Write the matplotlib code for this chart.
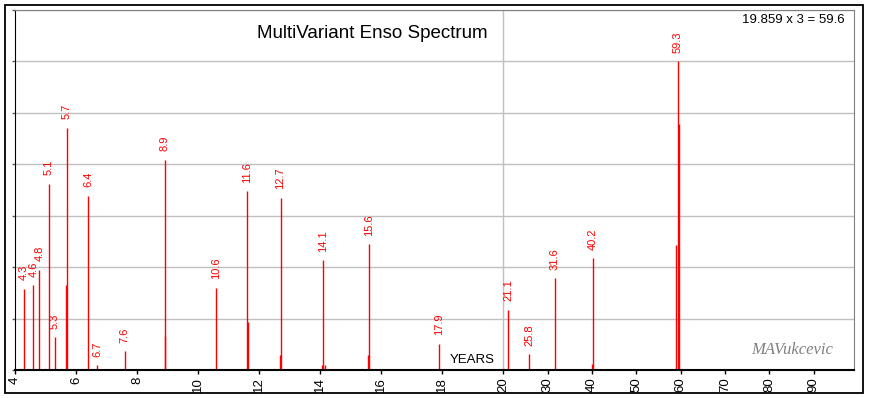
import matplotlib
matplotlib.use("Agg")
import matplotlib.pyplot as plt
from matplotlib.patches import Rectangle
import numpy as np

plt.rcParams['font.family'] = ['Liberation Sans', 'DejaVu Sans']

# main spectral peaks (period in years, relative amplitude) - labelled
periods = [4.3, 4.6, 4.8, 5.1, 5.3, 5.7, 6.4, 6.7, 7.6, 8.9, 10.6, 11.6, 12.7,
           14.1, 15.6, 17.9, 21.1, 25.8, 31.6, 40.2, 59.3]
amps = [1.58, 1.65, 1.95, 3.62, 0.64, 4.71, 3.39, 0.10, 0.37, 4.09, 1.60, 3.48,
        3.35, 2.14, 2.45, 0.51, 1.17, 0.31, 1.79, 2.18, 6.00]

# secondary (unlabelled) lines next to some peaks
sec_periods = [5.67, 8.93, 11.63, 12.67, 14.05, 14.14, 15.57, 40.0, 59.0, 59.6]
sec_amps = [1.65, 0.66, 0.93, 0.29, 0.10, 0.10, 0.29, 0.12, 2.43, 4.79]

left_ticks = [4, 6, 8, 10, 12, 14, 16, 18, 20]
right_ticks = [30, 40, 50, 60, 70, 80, 90]

title = "MultiVariant Enso Spectrum"
note = "19.859 x 3 = 59.6"

# piecewise linear x axis: 4-20 wide, 20-100 compressed
K = 0.1452


def fwd(v):
    v = np.asarray(v, dtype=float)
    return np.where(v <= 20, v - 4, 16 + (v - 20) * K)


def inv(u):
    u = np.asarray(u, dtype=float)
    return np.where(u <= 16, u + 4, 20 + (u - 16) / K)


fig = plt.figure(figsize=(8.71, 3.98), dpi=100)
ax = fig.add_axes([15 / 871, 1 - 370 / 398, (854 - 15) / 871, 360 / 398])
ax.set_xscale('function', functions=(fwd, inv))
ax.set_xlim(4, 99.1)
ax.set_ylim(0, 7)

ax.set_yticks(range(8))
ax.yaxis.grid(True, color='#c0c0c0', lw=1)
ax.set_axisbelow(True)
ax.axvline(20, color='#c0c0c0', lw=1, zorder=0)
ax.tick_params(axis='y', labelleft=False, length=2, width=1, color='#606060')

ax.set_xticks(left_ticks + right_ticks)
ax.set_xticklabels([str(t) for t in left_ticks + right_ticks], rotation=90, fontsize=9.5)
ax.xaxis.set_minor_locator(matplotlib.ticker.NullLocator())
ax.tick_params(axis='x', length=3, width=1, pad=2)

ax.vlines(periods, 0, amps, colors='red', lw=1.0)
ax.vlines(sec_periods, 0, sec_amps, colors='red', lw=1.0)

for p, a in zip(periods, amps):
    ax.annotate(f"{p:.1f}", xy=(p, a), xytext=(0, 6), textcoords='offset points',
                rotation=90, ha='center', va='bottom', color='red', fontsize=8)

for s in ['left', 'bottom']:
    ax.spines[s].set_color('black')
ax.spines['bottom'].set_linewidth(1.5)
for s in ['top', 'right']:
    ax.spines[s].set_color('#808080')

fig.text(372 / 871, 1 - 33 / 398, title, ha='center', va='center', fontsize=13.5)
fig.text(845 / 871, 1 - 20 / 398, note, ha='right', va='center', fontsize=9.5)
fig.text(472 / 871, 1 - 360 / 398, "YEARS", ha='center', va='center', fontsize=9.5)
fig.text(792 / 871, 1 - 350 / 398, "MAVukcevic", ha='center', va='center',
         fontsize=12, color='#808080', style='italic', family='Liberation Serif')

fig.patches.append(Rectangle((5 / 871, 1 - 393 / 398), 858 / 871, 388 / 398,
                             transform=fig.transFigure, fill=False,
                             edgecolor='black', lw=1.3))

fig.savefig('out.png', dpi=100)
